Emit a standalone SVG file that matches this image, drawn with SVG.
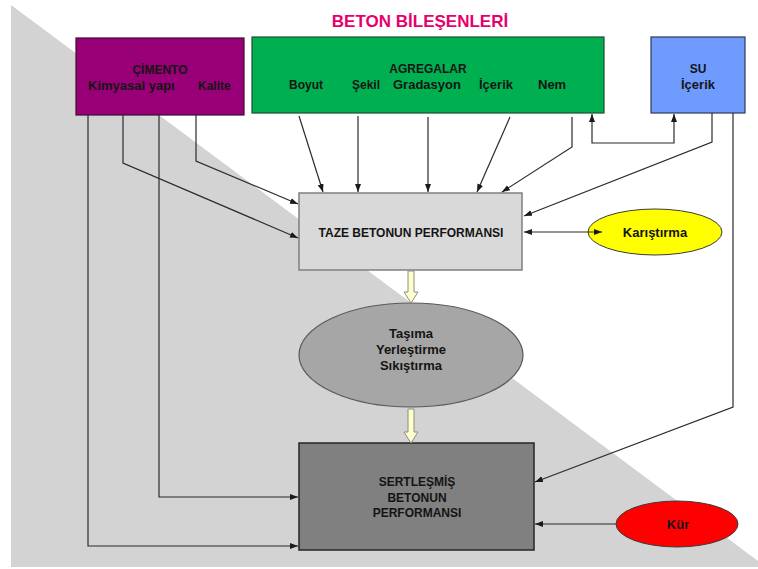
<svg xmlns="http://www.w3.org/2000/svg" width="758" height="569" viewBox="0 0 758 569">
<style>
  text { font-family: "Liberation Sans", Arial, sans-serif; font-weight: bold; fill: #141414; }
  .t12 { font-size: 12px; }
  .t13 { font-size: 13px; }
  .mid { text-anchor: middle; }
  .conn path { fill: none; stroke: #2b2b2b; stroke-width: 1.2; }
  .blk { fill: #FFFFCC; stroke: #8c8c8c; stroke-width: 1; }
</style>
<defs>
  <marker id="ah" markerUnits="userSpaceOnUse" markerWidth="9" markerHeight="7" refX="8" refY="3" orient="auto-start-reverse">
    <path d="M0,0 L8,3 L0,6 z" fill="#1a1a1a"/>
  </marker>
</defs>
<rect x="0" y="0" width="758" height="569" fill="#ffffff"/>
<polygon points="11,5 758,561 758,567 11,567" fill="#D3D3D3"/>
<text x="420" y="27" class="mid" style="font-size:17px;fill:#E6006E">BETON BİLEŞENLERİ</text>

<g id="cimento">
  <rect x="76" y="38" width="168" height="77" fill="#990077" stroke="#3a1030" stroke-width="1.2"/>
  <text x="160" y="74" class="t12 mid">ÇİMENTO</text>
  <text x="88" y="90" class="t13">Kimyasal yapı</text>
  <text x="198" y="90" class="t12">Kalite</text>
</g>
<g id="agregalar">
  <rect x="252" y="37" width="352" height="76" fill="#00B050" stroke="#1f4d2a" stroke-width="1.2"/>
  <text x="428" y="73" class="t12 mid">AGREGALAR</text>
  <text x="289" y="89" class="t12">Boyut</text>
  <text x="352" y="89" class="t12">Şekil</text>
  <text x="393" y="89" class="t13">Gradasyon</text>
  <text x="479" y="89" class="t13">İçerik</text>
  <text x="538" y="89" class="t13">Nem</text>
</g>
<g id="su">
  <rect x="651" y="37" width="94" height="76" fill="#6F9BFF" stroke="#2b3a5a" stroke-width="1.2"/>
  <text x="698" y="73" class="t12 mid">SU</text>
  <text x="698" y="89" class="t13 mid">İçerik</text>
</g>
<g id="taze">
  <rect x="299" y="193" width="223" height="77" fill="#D9D9D9" stroke="#7f7f7f" stroke-width="1.5"/>
  <text x="411" y="237" class="t12 mid">TAZE BETONUN PERFORMANSI</text>
</g>
<g id="karistirma">
  <ellipse cx="655" cy="232" rx="67" ry="23" fill="#FFFF00" stroke="#3a3a3a" stroke-width="1"/>
  <text x="655" y="237" class="t13 mid">Karıştırma</text>
</g>
<g id="tasima">
  <ellipse cx="411" cy="355" rx="112" ry="52" fill="#A6A6A6" stroke="#595959" stroke-width="1.2"/>
  <text x="411" y="338" class="t13 mid">Taşıma</text>
  <text x="411" y="354" class="t13 mid">Yerleştirme</text>
  <text x="411" y="370" class="t13 mid">Sıkıştırma</text>
</g>
<g id="sertlesmis">
  <rect x="299" y="443" width="235" height="107" fill="#808080" stroke="#262626" stroke-width="1.5"/>
  <text x="417" y="486" class="t12 mid">SERTLEŞMİŞ</text>
  <text x="417" y="502" class="t12 mid">BETONUN</text>
  <text x="417" y="517" class="t12 mid">PERFORMANSI</text>
</g>
<g id="kur">
  <ellipse cx="677" cy="524" rx="61" ry="23" fill="#FF0000" stroke="#3a3a3a" stroke-width="1"/>
  <text x="678" y="529" class="t13 mid">Kür</text>
</g>

<g id="block-arrows">
  <polygon class="blk" points="408,271 414,271 414,292 418,292 411,303 404,292 408,292"/>
  <polygon class="blk" points="408,409 414,409 414,432 418,432 411,443 404,432 408,432"/>
</g>

<g class="conn" id="connectors">
  <path d="M88,115 V546 H298" marker-end="url(#ah)"/>
  <path d="M123,115 V163 L298,238" marker-end="url(#ah)"/>
  <path d="M159,115 V497 H298" marker-end="url(#ah)"/>
  <path d="M196,115 V161 L298,204" marker-end="url(#ah)"/>
  <path d="M299,116 L323,192" marker-end="url(#ah)"/>
  <path d="M358,116 V192" marker-end="url(#ah)"/>
  <path d="M428,117 V192" marker-end="url(#ah)"/>
  <path d="M510,117 L477,192" marker-end="url(#ah)"/>
  <path d="M572,117 V147 L502,192" marker-end="url(#ah)"/>
  <path d="M592,114 V143 H674 V114" marker-start="url(#ah)" marker-end="url(#ah)"/>
  <path d="M712,113 V142 L524,216" marker-end="url(#ah)"/>
  <path d="M733,113 V407 L535,482" marker-end="url(#ah)"/>
  <path d="M524,232 H602" marker-start="url(#ah)" marker-end="url(#ah)"/>
  <path d="M616,524 H535" marker-end="url(#ah)"/>
</g>
</svg>
